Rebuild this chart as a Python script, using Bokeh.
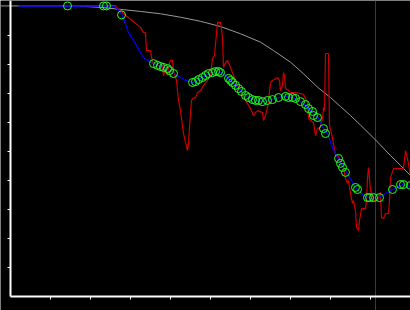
from bokeh.plotting import figure
from bokeh.models import Range1d, LinearAxis, FixedTicker, Span
from bokeh.embed import file_html
from bokeh.resources import INLINE

# ---- data ----
gray_x = [-10, 65, 90, 110, 130, 150, 170, 190, 210, 230, 250, 263, 280, 293, 307, 320, 330, 340, 350, 365, 380, 390, 400]
gray_y = [100.2, 100.2, 99.7, 99.0, 98.3, 97.5, 96.3, 94.9, 93.1, 90.6, 87.7, 84.8, 80.8, 76.8, 72.2, 68.6, 65.5, 62.4, 59.1, 54.0, 48.6, 45.2, 41.7]

red_x = [8, 105, 106, 113, 130, 133, 135, 136, 140, 142, 146, 150, 152, 153, 155, 157, 159, 160, 162, 163,
         166, 168, 170, 173, 177, 178, 179, 181, 182, 185, 187, 190, 193, 197, 200, 202, 204, 207, 210, 212,
         213, 215, 217, 220, 223, 226, 230, 235, 238, 240, 243, 245, 247, 252, 253, 255, 257, 258, 260, 262,
         267, 269, 270, 272, 273, 274, 275, 278, 280, 285, 290, 293, 297, 298, 300, 303, 305, 307, 310, 312,
         313, 314, 315, 318, 319, 322, 323, 325, 328, 330, 333, 335, 337, 338, 340, 342, 343, 345, 346, 348,
         349, 351, 355, 356, 357, 358, 360, 363, 367, 370, 371, 373, 375, 378, 379, 380, 383, 393, 395, 397, 400]
red_y = [100.3, 100.3, 99.7, 97.6, 92.8, 91.0, 91.0, 84.8, 84.8, 80.7, 80.0, 79.3, 79.7, 76.2, 78.6, 76.2, 80.7, 81.4, 81.4, 77.9,
         74.5, 67.6, 64.1, 56.2, 50.3, 52.8, 58.3, 67.6, 68.3, 68.6, 70.3, 71.0, 72.8, 74.5, 76.2, 82.1, 83.1, 94.5, 94.5, 89.3,
         79.0, 80.7, 81.4, 79.0, 76.2, 73.8, 71.0, 67.6, 65.9, 64.8, 62.4, 63.4, 64.1, 63.4, 60.7, 62.4, 65.2, 67.6, 73.8, 74.5,
         75.5, 74.5, 71.0, 72.8, 77.2, 76.2, 71.7, 71.0, 70.3, 70.3, 70.0, 69.7, 66.9, 61.4, 60.7, 60.0, 55.5, 57.9, 58.3, 61.4,
         65.2, 64.1, 83.8, 83.8, 59.0, 54.8, 52.8, 48.6, 48.6, 46.2, 44.5, 40.7, 39.0, 40.0, 35.5, 32.1, 33.1, 29.7, 23.8, 22.8,
         26.2, 30.3, 30.3, 33.1, 41.0, 44.5, 36.6, 33.1, 33.1, 35.9, 27.2, 26.9, 28.6, 28.6, 33.1, 41.0, 44.1, 44.1, 50.3, 47.6, 41.7]

blue_x = [8, 100, 104, 107, 112, 118, 123, 127, 130, 133, 140, 145, 150, 155, 160, 164, 167, 175, 182, 188,
          195, 202, 208, 212, 218, 225, 231, 238, 245, 252, 258, 268, 275, 282, 290, 295, 302, 308, 313, 317,
          322, 327, 332, 337, 345, 353, 358, 368, 375, 382, 392, 400]
blue_y = [100.1, 100.1, 99.8, 99.2, 96.9, 91.0, 88.3, 85.9, 84.1, 82.4, 80.7, 80.0, 79.3, 78.6, 77.9, 76.9, 76.2, 74.5, 73.8, 74.8,
          76.2, 77.2, 77.6, 77.2, 75.2, 72.8, 70.7, 68.6, 67.6, 67.2, 67.6, 68.6, 69.0, 68.6, 67.2, 65.9, 63.4, 61.4, 57.9, 56.2,
          51.4, 47.9, 45.2, 42.4, 37.6, 34.8, 34.1, 34.1, 35.5, 36.9, 38.6, 37.9]

mark_x = [57, 93, 96, 111, 143, 147, 150, 153, 157, 159, 163, 182, 185, 188, 192, 195, 198, 202, 205, 208,
          210, 218, 220, 222, 225, 228, 231, 235, 238, 242, 245, 248, 252, 257, 262, 268, 275, 278, 282, 285,
          290, 295, 298, 302, 303, 307, 313, 315, 328, 330, 332, 335, 345, 347, 357, 359, 363, 369, 382, 390,
          393, 400]
mark_y = [100.2, 100.2, 100.2, 97.1, 80.3, 79.7, 79.3, 79.0, 78.6, 77.9, 76.9, 73.8, 74.1, 74.8, 75.5, 76.2, 76.9, 77.2, 77.6, 77.6,
          77.2, 75.2, 74.5, 73.8, 72.8, 71.7, 70.7, 69.3, 68.6, 67.9, 67.6, 67.6, 67.2, 67.6, 67.9, 68.6, 69.0, 68.6, 68.6, 68.3,
          67.2, 66.2, 64.8, 63.8, 62.4, 61.7, 57.9, 56.2, 47.6, 45.9, 44.5, 42.8, 37.6, 36.9, 34.1, 34.1, 34.1, 34.1, 36.9, 38.6,
          38.6, 38.3]

x_ticks = [40, 80, 120, 160, 200, 240, 280, 320, 360]
y_ticks = [10, 20, 30, 40, 50, 60, 70, 80, 90]
cursor_x = 365

# ---- figure ----
p = figure(width=410, height=310, x_range=Range1d(-10, 400), y_range=Range1d(-4.83, 102.07),
           x_axis_location=None, y_axis_location=None, toolbar_location=None,
           output_backend="svg", min_border=0, background_fill_color="black",
           border_fill_color="black", outline_line_color=None)
for g in p.grid:
    g.visible = False

def style(ax, ticks):
    ax.ticker = FixedTicker(ticks=ticks)
    ax.major_label_overrides = {t: "" for t in ticks}
    ax.major_label_text_font_size = "0px"
    ax.axis_line_color = "white"
    ax.axis_line_width = 2
    ax.major_tick_line_color = "white"
    ax.major_tick_line_width = 1
    ax.major_tick_in = 0
    ax.major_tick_out = 3
    ax.minor_tick_line_color = None

xa = LinearAxis(fixed_location=0, bounds=(0, 400))
style(xa, x_ticks)
p.add_layout(xa, "below")
ya = LinearAxis(fixed_location=0, bounds=(0, 102.07))
style(ya, y_ticks)
p.add_layout(ya, "left")

p.add_layout(Span(location=cursor_x, dimension="height", line_color="#661a66", line_width=1, level="underlay"))

p.line(gray_x, gray_y, line_color="#999999", line_width=1)
p.line(red_x, red_y, line_color="#cc0000", line_width=1.2)
p.line(blue_x, blue_y, line_color="#0000ff", line_width=1.2)
p.scatter(mark_x, mark_y, marker="circle", size=8, fill_color=None, line_color="#22ff22", line_width=1)

open("out.html", "w").write(file_html(p, INLINE))
